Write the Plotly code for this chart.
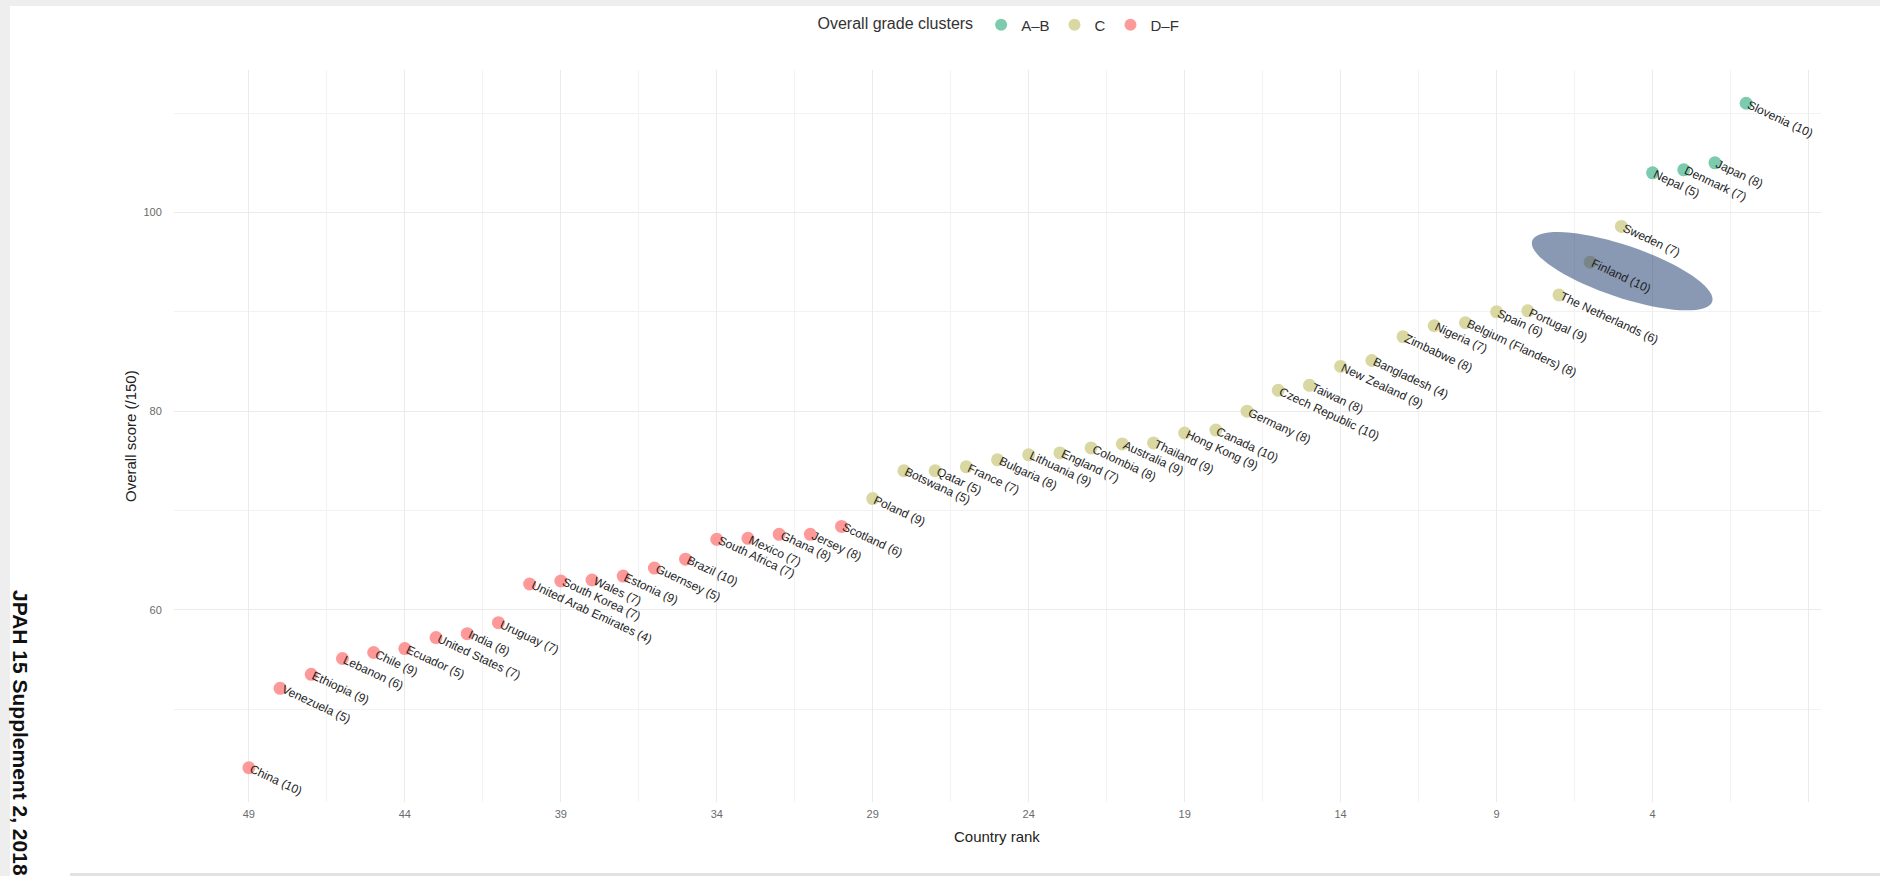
import math
import plotly.graph_objects as go

# ---------------- data ----------------
countries = [
    "Slovenia", "Japan", "Denmark", "Nepal", "Sweden", "Finland", "The Netherlands",
    "Portugal", "Spain", "Belgium (Flanders)", "Nigeria", "Zimbabwe", "Bangladesh",
    "New Zealand", "Taiwan", "Czech Republic", "Germany", "Canada", "Hong Kong",
    "Thailand", "Australia", "Colombia", "England", "Lithuania", "Bulgaria", "France",
    "Qatar", "Botswana", "Poland", "Scotland", "Jersey", "Ghana", "Mexico",
    "South Africa", "Brazil", "Guernsey", "Estonia", "Wales", "South Korea",
    "United Arab Emirates", "Uruguay", "India", "United States", "Ecuador", "Chile",
    "Lebanon", "Ethiopia", "Venezuela", "China",
]
ranks = list(range(1, 50))
scores = [
    111.0, 105.0, 104.3, 104.0, 98.6, 95.0, 91.7,
    90.1, 90.0, 88.9, 88.6, 87.5, 85.1,
    84.5, 82.6, 82.1, 80.0, 78.1, 77.8,
    76.8, 76.7, 76.3, 75.8, 75.6, 75.1, 74.4,
    74.0, 74.0, 71.2, 68.4, 67.6, 67.6, 67.2,
    67.1, 65.1, 64.2, 63.4, 63.0, 62.9,
    62.6, 58.7, 57.6, 57.2, 56.1, 55.7,
    55.1, 53.5, 52.1, 44.1,
]
n_indicators = [
    10, 8, 7, 5, 7, 10, 6,
    9, 6, 8, 7, 8, 4,
    9, 8, 10, 8, 10, 9,
    9, 9, 8, 7, 9, 8, 7,
    5, 5, 9, 6, 8, 8, 7,
    7, 10, 5, 9, 7, 7,
    4, 7, 8, 7, 5, 9,
    6, 9, 5, 10,
]
clusters = ["A\u2013B"] * 4 + ["C"] * 25 + ["D\u2013F"] * 20
cluster_order = ["A\u2013B", "C", "D\u2013F"]
cluster_colors = {"A\u2013B": "#7ccbae", "C": "#d9d8a3", "D\u2013F": "#fd9a99"}
x_tick_vals = [49, 44, 39, 34, 29, 24, 19, 14, 9, 4, -1]
x_tick_text = ["49", "44", "39", "34", "29", "24", "19", "14", "9", "4", ""]
highlight_country = "Finland"

# ---------------- figure ----------------
W, H = 1880, 876
ML, MR, MT, MB = 174, 59, 70, 74
PW, PH = W - ML - MR, H - MT - MB

def px_to_paper_x(px):
    return (px - ML) / PW

def px_to_paper_y(py):
    return (H - MB - py) / PH

fig = go.Figure()
for cl in cluster_order:
    idx = [i for i, c in enumerate(clusters) if c == cl]
    fig.add_trace(go.Scatter(
        x=[ranks[i] for i in idx],
        y=[scores[i] for i in idx],
        mode="markers",
        name=cl,
        marker=dict(size=13, color=cluster_colors[cl], line=dict(width=0)),
        hovertext=[countries[i] for i in idx],
    ))

# Arial / Liberation Sans advance widths (per 1000 em)
AW = {" ": 278, "(": 333, ")": 333}
for ch in "0123456789":
    AW[ch] = 556
AW.update(dict(zip("ABCDEFGHIJKLMNOPQRSTUVWXYZ",
                   [667, 667, 722, 722, 667, 611, 778, 722, 278, 500, 667, 556, 833,
                    722, 778, 667, 778, 722, 667, 611, 722, 667, 944, 667, 667, 611])))
AW.update(dict(zip("abcdefghijklmnopqrstuvwxyz",
                   [556, 556, 500, 556, 556, 278, 556, 556, 222, 222, 500, 222, 833,
                    556, 556, 556, 556, 333, 500, 278, 556, 500, 722, 500, 500, 500])))

def text_width(s, size):
    return sum(AW.get(c, 556) for c in s) * size / 1000.0

LABEL_SIZE = 12
ANG = 25.0
th = math.radians(ANG)
annotations = []
for name, n, r, s in zip(countries, n_indicators, ranks, scores):
    label = f"{name} ({n})"
    w = text_width(label, LABEL_SIZE) + 2
    annotations.append(dict(
        x=r, y=s, xref="x", yref="y", text=label, showarrow=False,
        textangle=ANG, xanchor="center", yanchor="middle",
        xshift=(w / 2) * math.cos(th) + 1, yshift=-(w / 2) * math.sin(th),
        font=dict(family="Liberation Sans, Arial, sans-serif", size=LABEL_SIZE, color="#1e1e1e"),
    ))

# axis titles and side text
annotations.append(dict(
    x=px_to_paper_x(997), y=px_to_paper_y(836), xref="paper", yref="paper",
    text="Country rank", showarrow=False, xanchor="center", yanchor="middle",
    font=dict(family="Liberation Sans, Arial, sans-serif", size=15, color="#222222"),
))
annotations.append(dict(
    x=px_to_paper_x(130), y=px_to_paper_y(436), xref="paper", yref="paper",
    text="Overall score (/150)", showarrow=False, textangle=-90,
    xanchor="center", yanchor="middle",
    font=dict(family="Liberation Sans, Arial, sans-serif", size=15, color="#222222"),
))
annotations.append(dict(
    x=px_to_paper_x(21), y=px_to_paper_y(733), xref="paper", yref="paper",
    text="<b>JPAH 15 Supplement 2, 2018</b>", showarrow=False, textangle=90,
    xanchor="center", yanchor="middle",
    font=dict(family="Liberation Sans, Arial, sans-serif", size=21, color="#111111"),
))

# highlight ellipse near Finland (pixel-sized path anchored at data point)
hi = countries.index(highlight_country)
a_px, b_px, phi = 95.0, 26.0, math.radians(18.7)
off_x, off_y = 32.0, 9.0   # ellipse centre offset from the point (screen px, y down)
pts = []
for k in range(73):
    t = 2 * math.pi * k / 72
    ex = a_px * math.cos(t) * math.cos(phi) - b_px * math.sin(t) * math.sin(phi)
    ey = a_px * math.cos(t) * math.sin(phi) + b_px * math.sin(t) * math.cos(phi)
    pts.append((ex + off_x, -(ey + off_y)))
path = "M " + " L ".join(f"{x:.2f},{y:.2f}" for x, y in pts) + " Z"

shapes = [
    dict(type="path", xref="x", yref="y", xsizemode="pixel", ysizemode="pixel",
         xanchor=ranks[hi], yanchor=scores[hi], path=path,
         fillcolor="rgba(30,60,110,0.52)", line=dict(width=0), layer="above"),
    # page frame decorations
    dict(type="rect", xref="paper", yref="paper",
         x0=px_to_paper_x(0), x1=px_to_paper_x(W), y0=px_to_paper_y(6), y1=px_to_paper_y(0),
         fillcolor="#eeeeee", line=dict(width=0), layer="below"),
    dict(type="rect", xref="paper", yref="paper",
         x0=px_to_paper_x(0), x1=px_to_paper_x(10), y0=px_to_paper_y(H), y1=px_to_paper_y(0),
         fillcolor="#eeeeee", line=dict(width=0), layer="below"),
    dict(type="rect", xref="paper", yref="paper",
         x0=px_to_paper_x(70), x1=px_to_paper_x(W), y0=px_to_paper_y(H), y1=px_to_paper_y(873),
         fillcolor="#e2e2e2", line=dict(width=0), layer="below"),
]

fig.update_layout(
    width=W, height=H,
    margin=dict(l=ML, r=MR, t=MT, b=MB, autoexpand=False),
    paper_bgcolor="white", plot_bgcolor="white",
    font=dict(family="Liberation Sans, Arial, sans-serif", color="#333333"),
    showlegend=True,
    legend=dict(
        orientation="h", x=px_to_paper_x(1000), y=px_to_paper_y(25),
        xanchor="center", yanchor="middle",
        title=dict(text="Overall grade clusters", side="left",
                   font=dict(size=16, color="#333333")),
        font=dict(size=15, color="#333333"),
        itemsizing="constant",
    ),
    annotations=annotations,
    shapes=shapes,
    xaxis=dict(
        range=[51.4, -1.4], tickvals=x_tick_vals, ticktext=x_tick_text,
        showgrid=True, gridcolor="#ebebeb", gridwidth=1.3, zeroline=False,
        showline=False, ticks="outside", ticklen=2, tickcolor="rgba(0,0,0,0)",
        tickfont=dict(size=11, color="#6b6b6b"),
        minor=dict(tickvals=[46.5, 41.5, 36.5, 31.5, 26.5, 21.5, 16.5, 11.5, 6.5, 1.5],
                   showgrid=True, gridcolor="#f2f2f2", gridwidth=0.8),
    ),
    yaxis=dict(
        range=[40.65, 114.35], tickvals=[60, 80, 100],
        showgrid=True, gridcolor="#ebebeb", gridwidth=1.3, zeroline=False,
        showline=False, ticks="outside", ticklen=9, tickcolor="rgba(0,0,0,0)",
        tickfont=dict(size=11, color="#6b6b6b"),
        minor=dict(tickvals=[50, 70, 90, 110], showgrid=True,
                   gridcolor="#f2f2f2", gridwidth=0.8),
    ),
)

fig.write_html("out.html", config={"displayModeBar": False},
               post_script="document.body.style.margin='0px';")
